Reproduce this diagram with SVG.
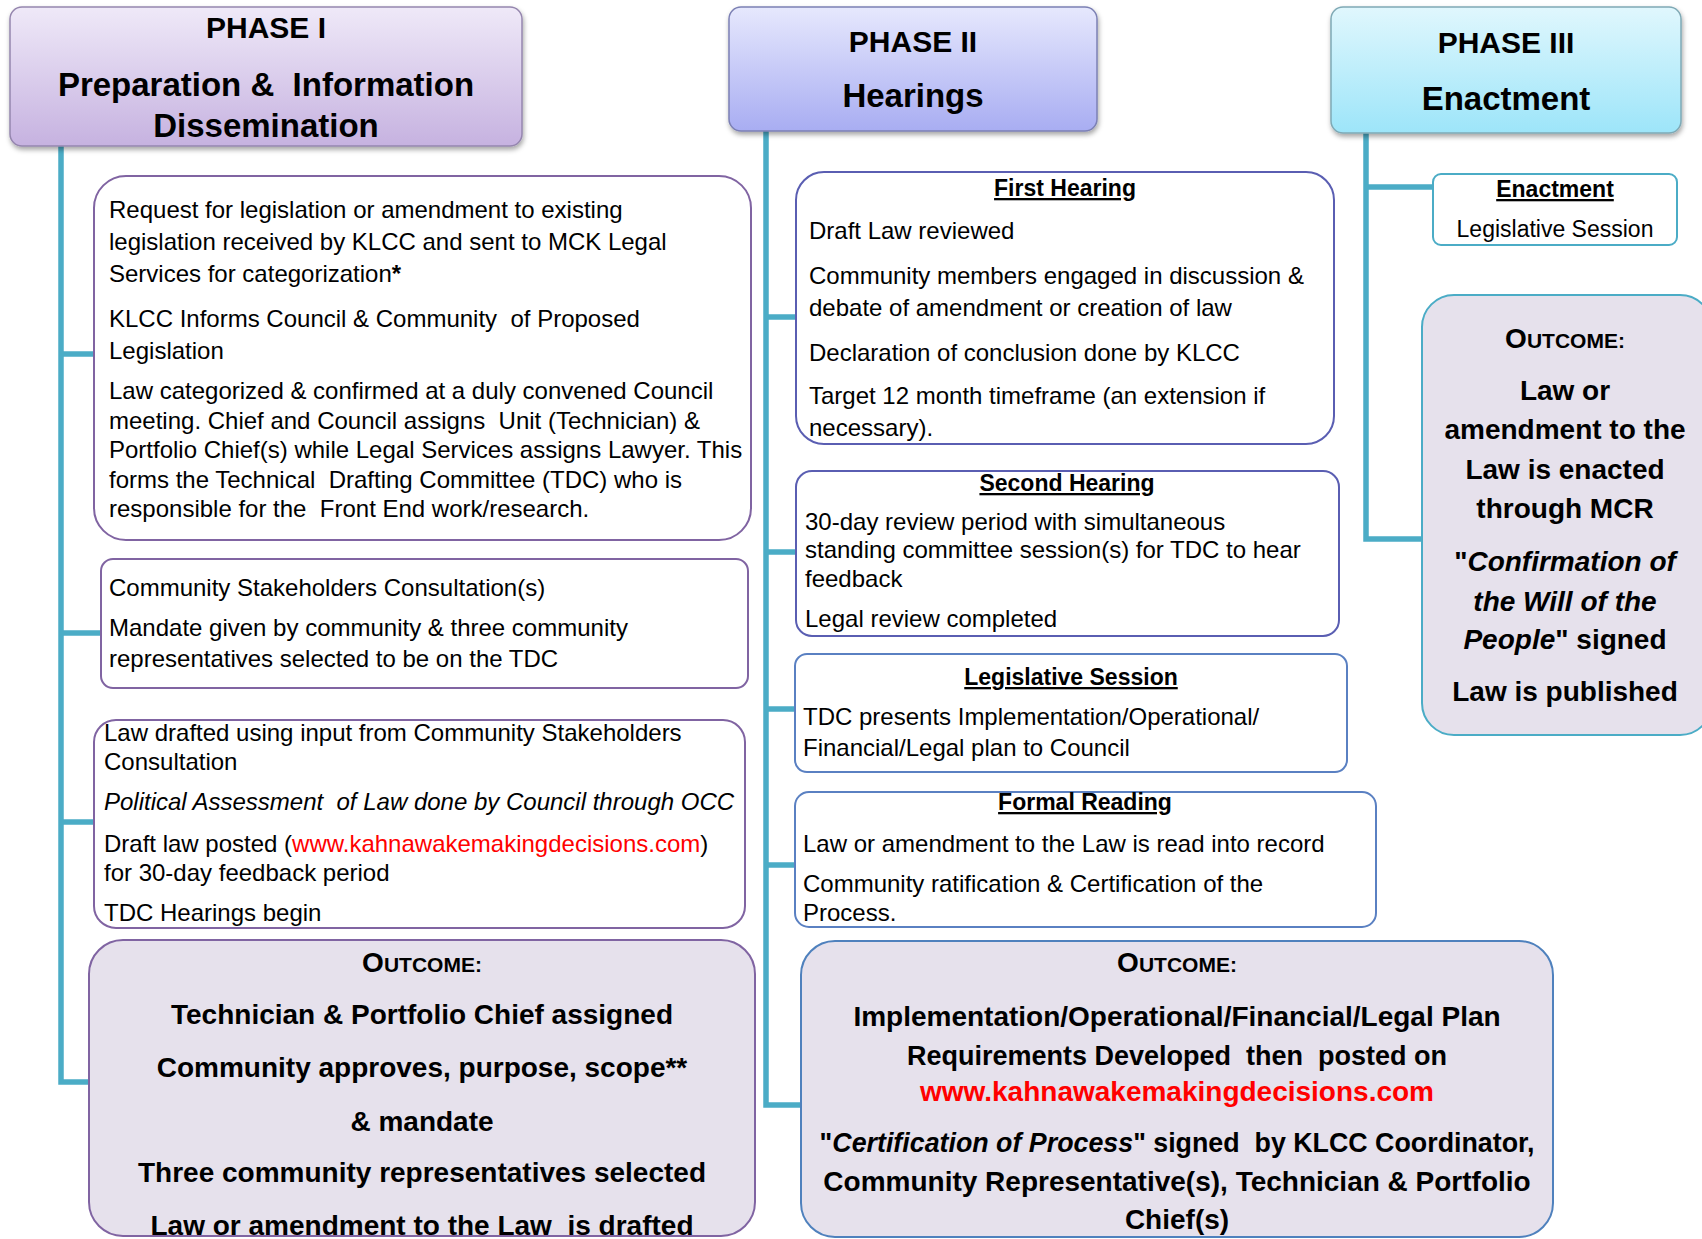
<svg xmlns="http://www.w3.org/2000/svg" width="1702" height="1239" viewBox="0 0 1702 1239" xml:space="preserve">
<defs>
<linearGradient id="g1" x1="0" y1="0" x2="0" y2="1"><stop offset="0" stop-color="#EFE9F8"/><stop offset="1" stop-color="#C6B2E0"/></linearGradient>
<linearGradient id="g2" x1="0" y1="0" x2="0" y2="1"><stop offset="0" stop-color="#E6E8FD"/><stop offset="1" stop-color="#A8ADF2"/></linearGradient>
<linearGradient id="g3" x1="0" y1="0" x2="0" y2="1"><stop offset="0" stop-color="#E0F7FD"/><stop offset="1" stop-color="#9DE5F9"/></linearGradient>
<filter id="sh" x="-5%" y="-10%" width="115%" height="130%"><feDropShadow dx="1" dy="3" stdDeviation="2.5" flood-color="#000" flood-opacity="0.35"/></filter>
<style>
text{font-family:"Liberation Sans",Arial,sans-serif;fill:#000;white-space:pre}
.hd{font-size:30px;font-weight:bold;text-anchor:middle}
.hs{font-size:33px;font-weight:bold;text-anchor:middle}
.b{font-size:24px}
.s{font-size:23px}
.t{font-size:23px;font-weight:bold;text-anchor:middle;text-decoration:underline}
.o{font-size:28px;font-weight:bold;text-anchor:middle}
.o27{font-size:27px}
.sc{font-size:21px}
.red{fill:#FF0000}
.it{font-style:italic}
.bx{fill:#fff;stroke-width:2}
.p1{stroke:#8064A2}
.p2{stroke:#5A5EB2}
.p2b{stroke:#5A80C2}
.p3{stroke:#4BACC6}
.out{fill:#E6E1EC;stroke-width:2}
.con{fill:none;stroke:#4BACC6;stroke-width:5.5;stroke-linejoin:miter}
</style>
</defs>

<g id="connectors">
<path class="con" d="M61,146 V1082 H89 M61,354 H94 M61,633 H101 M61,822 H94"/>
<path class="con" d="M766,131 V1105 H801 M766,317 H796 M766,552 H796 M766,709 H795 M766,865 H795"/>
<path class="con" d="M1366,133 V539 H1422 M1366,187 H1433"/>
</g>

<g id="phase1">
<rect x="10" y="7" width="512" height="139" rx="12" fill="url(#g1)" stroke="#9586AE" stroke-width="1.5" filter="url(#sh)"/>
<text class="hd" x="266" y="38">PHASE I</text>
<text class="hs" x="266" y="96">Preparation &amp;  Information</text>
<text class="hs" x="266" y="137">Dissemination</text>
</g>

<g id="phase2">
<rect x="729" y="7" width="368" height="124" rx="12" fill="url(#g2)" stroke="#7C80B4" stroke-width="1.5" filter="url(#sh)"/>
<text class="hd" x="913" y="52">PHASE II</text>
<text class="hs" x="913" y="107">Hearings</text>
</g>

<g id="phase3">
<rect x="1331" y="7" width="350" height="126" rx="12" fill="url(#g3)" stroke="#7FA9B5" stroke-width="1.5" filter="url(#sh)"/>
<text class="hd" x="1506" y="53">PHASE III</text>
<text class="hs" x="1506" y="110">Enactment</text>
</g>

<g id="p1-request">
<rect class="bx p1" x="94" y="176" width="657" height="364" rx="32"/>
<text class="b" x="109" y="218">Request for legislation or amendment to existing</text>
<text class="b" x="109" y="250">legislation received by KLCC and sent to MCK Legal</text>
<text class="b" x="109" y="282">Services for categorization<tspan font-weight="bold">*</tspan></text>
<text class="b" x="109" y="327">KLCC Informs Council &amp; Community  of Proposed</text>
<text class="b" x="109" y="359">Legislation</text>
<text class="b" x="109" y="399">Law categorized &amp; confirmed at a duly convened Council</text>
<text class="b" x="109" y="429">meeting. Chief and Council assigns  Unit (Technician) &amp;</text>
<text class="b" x="109" y="458">Portfolio Chief(s) while Legal Services assigns Lawyer. This</text>
<text class="b" x="109" y="488">forms the Technical  Drafting Committee (TDC) who is</text>
<text class="b" x="109" y="517">responsible for the  Front End work/research.</text>
</g>

<g id="p1-consultation">
<rect class="bx p1" x="101" y="559" width="647" height="129" rx="12"/>
<text class="b" x="109" y="596">Community Stakeholders Consultation(s)</text>
<text class="b" x="109" y="636">Mandate given by community &amp; three community</text>
<text class="b" x="109" y="667">representatives selected to be on the TDC</text>
</g>

<g id="p1-drafting">
<rect class="bx p1" x="94" y="720" width="651" height="208" rx="22"/>
<text class="b" x="104" y="741">Law drafted using input from Community Stakeholders</text>
<text class="b" x="104" y="770">Consultation</text>
<text class="b it" x="104" y="810">Political Assessment  of Law done by Council through OCC</text>
<text class="b" x="104" y="852">Draft law posted (<tspan class="red">www.kahnawakemakingdecisions.com</tspan>)</text>
<text class="b" x="104" y="881">for 30-day feedback period</text>
<text class="b" x="104" y="921">TDC Hearings begin</text>
</g>

<g id="p1-outcome">
<rect class="out p1" x="89" y="940" width="666" height="296" rx="34"/>
<text class="o" x="422" y="972">O<tspan class="sc">UTCOME:</tspan></text>
<text class="o" x="422" y="1024">Technician &amp; Portfolio Chief assigned</text>
<text class="o" x="422" y="1077">Community approves, purpose, scope**</text>
<text class="o" x="422" y="1131">&amp; mandate</text>
<text class="o" x="422" y="1182">Three community representatives selected</text>
<text class="o" x="422" y="1235">Law or amendment to the Law  is drafted</text>
</g>

<g id="p2-first">
<rect class="bx p2" x="796" y="172" width="538" height="272" rx="28"/>
<text class="t" x="1065" y="196">First Hearing</text>
<text class="b" x="809" y="239">Draft Law reviewed</text>
<text class="b" x="809" y="284">Community members engaged in discussion &amp;</text>
<text class="b" x="809" y="316">debate of amendment or creation of law</text>
<text class="b" x="809" y="361">Declaration of conclusion done by KLCC</text>
<text class="b" x="809" y="404">Target 12 month timeframe (an extension if</text>
<text class="b" x="809" y="436">necessary).</text>
</g>

<g id="p2-second">
<rect class="bx p2" x="796" y="471" width="543" height="165" rx="16"/>
<text class="t" x="1067" y="491">Second Hearing</text>
<text class="b" x="805" y="530">30-day review period with simultaneous</text>
<text class="b" x="805" y="558">standing committee session(s) for TDC to hear</text>
<text class="b" x="805" y="587">feedback</text>
<text class="b" x="805" y="627">Legal review completed</text>
</g>

<g id="p2-legislative">
<rect class="bx p2b" x="795" y="654" width="552" height="118" rx="12"/>
<text class="t" x="1071" y="685">Legislative Session</text>
<text class="b" x="803" y="725">TDC presents Implementation/Operational/</text>
<text class="b" x="803" y="756">Financial/Legal plan to Council</text>
</g>

<g id="p2-formal">
<rect class="bx p2b" x="795" y="792" width="581" height="135" rx="14"/>
<text class="t" x="1085" y="810">Formal Reading</text>
<text class="b" x="803" y="852">Law or amendment to the Law is read into record</text>
<text class="b" x="803" y="892">Community ratification &amp; Certification of the</text>
<text class="b" x="803" y="921">Process.</text>
</g>

<g id="p2-outcome">
<rect class="out" stroke="#4F81BD" x="801" y="941" width="752" height="296" rx="34"/>
<text class="o" x="1177" y="972">O<tspan class="sc">UTCOME:</tspan></text>
<text class="o" x="1177" y="1026">Implementation/Operational/Financial/Legal Plan</text>
<text class="o o27" x="1177" y="1065">Requirements Developed  then  posted on</text>
<text class="o red" x="1177" y="1101">www.kahnawakemakingdecisions.com</text>
<text class="o" x="1177" y="1152" style="font-size:26.8px">"<tspan class="it">Certification of Process</tspan>" signed  by KLCC Coordinator,</text>
<text class="o" x="1177" y="1191">Community Representative(s), Technician &amp; Portfolio</text>
<text class="o" x="1177" y="1229">Chief(s)</text>
</g>

<g id="p3-enactment">
<rect class="bx p3" x="1433" y="174" width="244" height="71" rx="8"/>
<text class="t" x="1555" y="197">Enactment</text>
<text class="s" x="1555" y="237" text-anchor="middle">Legislative Session</text>
</g>

<g id="p3-outcome">
<rect class="out p3" x="1422" y="295" width="290" height="440" rx="32"/>
<text class="o" x="1565" y="348">O<tspan class="sc">UTCOME:</tspan></text>
<text class="o" x="1565" y="400">Law or</text>
<text class="o" x="1565" y="439">amendment to the</text>
<text class="o" x="1565" y="479">Law is enacted</text>
<text class="o" x="1565" y="518">through MCR</text>
<text class="o" x="1565" y="571">"<tspan class="it">Confirmation of</tspan></text>
<text class="o it" x="1565" y="611">the Will of the</text>
<text class="o" x="1565" y="649"><tspan class="it">People</tspan>" signed</text>
<text class="o" x="1565" y="701">Law is published</text>
</g>
</svg>
